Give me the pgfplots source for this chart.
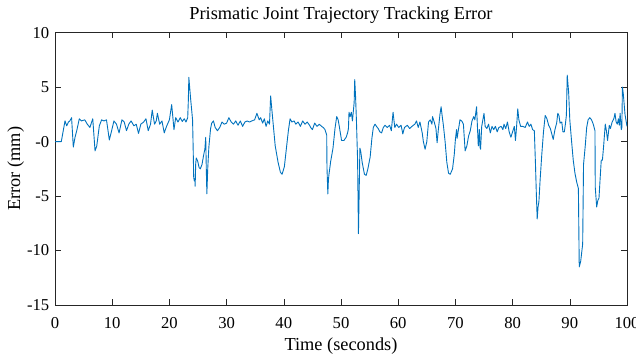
\documentclass[border=0pt]{standalone}
\usepackage{fontspec}
\setmainfont{Liberation Serif}
\usepackage{pgfplots}
\pgfplotsset{compat=1.18}
\definecolor{mlblue}{RGB}{0,114,189}
\begin{document}
\begin{tikzpicture}
\path[use as bounding box] (-55bp,-49bp) rectangle (581bp,305bp);
\begin{axis}[
  at={(0,0)}, anchor=south west,
  scale only axis, width=572bp, height=272.3bp,
  xmin=0, xmax=100, ymin=-15, ymax=10,
  xtick={0,10,...,100},
  ytick={-15,-10,-5,0,5,10},
  yticklabels={-15,-10,-5,-0,5,10},
  xticklabels={0,10,20,30,40,50,60,70,80,90,100},
  tick pos=both, tick align=inside,
  major tick length=5.7bp,
  axis line style={line width=0.6bp, black!85},
  tick style={line width=0.6bp, black!85},
  ticklabel style={font=\fontsize{16.7}{18}\selectfont},
  xticklabel style={anchor=base, inner sep=0pt, yshift=-23bp},
  yticklabel style={anchor=east, inner sep=0pt, xshift=-5.5bp},
  title={Prismatic Joint Trajectory Tracking Error},
  title style={font=\fontsize{18.4}{20}\selectfont, at={(0.5,1)}, anchor=base, yshift=7.7bp, inner sep=0pt},
  xlabel={Time (seconds)},
  xlabel style={font=\fontsize{18.4}{20}\selectfont, at={(0.5,0)}, anchor=base, yshift=-45bp, inner sep=0pt},
  ylabel={Error (mm)},
  ylabel style={font=\fontsize{18.4}{20}\selectfont, at={(axis description cs:-0.0685,0.5)}, anchor=center, inner sep=0pt},
]
\addplot[mlblue, line width=0.9bp, line join=round] table {
t v
0 0
1.1 0
1.75 1.9
2.05 1.45
2.35 1.8
2.6 1.9
2.9 2.2
3.2 -0.5
3.5 0.4
3.8 1.0
4.25 2.1
4.6 1.9
5.2 2.0
5.65 1.6
6.1 1.3
6.6 2.1
7.0 -0.85
7.3 -0.4
7.75 1.45
8.15 2.0
8.55 1.9
9.0 2.0
9.5 0.15
9.9 1.0
10.3 1.9
10.75 1.6
11.2 0.8
11.7 2.0
12.1 1.8
12.5 1.0
12.9 1.6
13.3 1.9
13.8 1.45
14.2 1.6
14.6 0.75
15.0 1.6
15.5 1.8
15.9 2.1
16.3 1.0
16.7 1.6
17.0 2.9
17.4 1.6
17.7 1.9
17.9 2.6
18.3 1.6
18.7 1.9
19.1 0.8
19.5 1.4
20.0 2.0
20.4 3.4
20.8 1.1
21.1 2.2
21.5 1.8
21.9 2.2
22.25 1.85
22.6 2.1
22.9 1.8
23.2 2.2
23.3 3.6
23.4 5.9
23.7 4.0
24.05 2.0
24.15 -0.5
24.25 -3.3
24.35 -3.6
24.45 -3.4
24.5 -4.1
24.6 -2.0
24.7 -1.5
24.95 -1.8
25.2 -2.4
25.4 -2.5
25.7 -2.1
26.0 -1.2
26.2 -0.7
26.35 0.4
26.45 -2.5
26.55 -4.8
26.7 -2.5
26.9 -0.5
27.2 1.2
27.4 1.7
27.7 1.9
28.0 1.3
28.4 1.0
28.8 1.3
29.2 1.8
29.6 1.6
30.0 1.7
30.4 2.2
30.8 1.8
31.2 1.6
31.6 1.9
32.0 1.5
32.4 1.9
32.8 1.4
33.2 1.8
33.6 1.9
34.0 1.8
34.4 1.9
34.9 2.0
35.3 2.6
35.7 2.0
35.95 2.2
36.3 1.7
36.6 2.1
36.9 1.4
37.2 1.9
37.5 1.6
37.7 4.2
37.9 3.0
38.2 1.3
38.5 -0.4
39.0 -1.9
39.4 -2.8
39.7 -3.0
40.1 -2.3
40.5 -0.4
40.8 1.0
41.1 2.1
41.4 1.8
41.8 1.9
42.1 1.6
42.5 1.8
42.9 1.4
43.3 1.9
43.7 1.6
44.1 1.8
44.5 1.5
44.7 1.3
45.0 1.1
45.4 1.7
45.8 1.4
46.2 1.6
46.6 1.4
46.9 1.3
47.2 1.1
47.5 0.6
47.55 -2.4
47.7 -4.8
47.8 -3.5
47.9 -3.0
48.2 -1.8
48.6 -0.6
48.95 1.2
49.25 2.3
49.5 2.0
49.7 1.4
50.1 0.1
50.5 0.1
50.9 0.4
51.15 0.8
51.3 1.2
51.4 2.7
51.6 2.3
51.8 2.7
52.0 1.9
52.3 3.6
52.4 5.7
52.55 4.1
52.7 1.9
52.9 -1.7
53.05 -8.45
53.15 -5.5
53.3 -0.6
53.45 -0.9
53.7 -1.9
54.1 -3.0
54.4 -3.1
54.7 -2.5
55.1 -1.4
55.4 0.3
55.65 1.3
55.95 1.6
56.2 1.4
56.5 1.2
56.8 0.9
57.1 0.8
57.4 1.3
57.7 1.5
58.1 1.3
58.5 1.5
58.8 1.0
59.1 2.7
59.4 1.3
59.7 1.6
60.1 1.3
60.5 1.5
60.7 1.0
60.8 0.7
61.1 1.3
61.6 1.5
62.0 1.2
62.4 1.4
62.9 1.6
63.2 1.9
63.5 1.3
63.8 1.8
64.2 0.8
64.4 0.0
64.7 -0.7
65.0 0.0
65.3 1.8
65.6 2.0
65.9 1.6
66.0 2.3
66.3 1.8
66.6 1.2
66.8 -0.1
67.0 1.0
67.3 2.5
67.5 3.2
67.7 2.3
67.9 1.5
68.2 0.0
68.5 -1.9
68.8 -2.9
69.1 -3.0
69.5 -2.5
69.8 -1.2
70.0 0.2
70.2 1.1
70.3 0.3
70.5 1.0
70.8 2.0
71.1 1.9
71.4 1.6
71.7 -0.85
72.0 -0.4
72.3 0.5
72.6 1.0
72.9 1.9
73.2 2.3
73.4 2.0
73.55 2.6
73.7 3.2
73.85 1.4
74.0 -0.4
74.2 1.1
74.3 -0.5
74.4 -0.7
74.6 1.4
74.8 2.0
75.0 2.6
75.2 1.4
75.5 1.2
75.8 1.6
76.1 0.8
76.4 1.4
76.7 1.1
77.0 1.4
77.3 0.9
77.6 1.3
78.0 1.4
78.3 1.1
78.5 1.6
78.8 1.2
79.1 1.8
79.4 0.9
79.7 0.4
80.0 0.9
80.3 1.4
80.5 0.1
80.7 1.4
80.9 3.0
81.1 2.0
81.4 1.4
81.8 1.4
82.2 1.3
82.6 1.8
82.9 1.4
83.2 1.6
83.5 1.1
83.8 1.0
84.0 -2.1
84.15 -4.8
84.3 -7.1
84.45 -6.0
84.6 -5.5
84.8 -3.6
85.1 -1.2
85.4 0.9
85.7 2.4
86.0 2.1
86.3 1.5
86.6 1.2
86.9 0.6
87.1 0.2
87.4 1.1
87.7 1.7
87.9 2.6
88.1 2.4
88.3 1.7
88.6 1.8
88.8 0.9
89.05 0.9
89.25 1.7
89.4 2.4
89.55 6.1
89.8 4.5
90.0 2.0
90.3 0.1
90.6 -1.7
90.9 -2.9
91.2 -3.7
91.5 -4.3
91.65 -11.5
91.9 -11.0
92.25 -9.4
92.4 -2.1
92.7 -0.4
92.95 1.3
93.2 2.0
93.5 2.2
93.8 2.0
94.1 1.6
94.4 1.0
94.45 -4.2
94.7 -6.0
94.9 -5.4
95.1 -5.2
95.3 -3.4
95.5 -1.7
95.7 -1.7
95.9 -0.5
96.2 1.6
96.4 1.0
96.6 0.1
96.9 1.5
97.1 1.2
97.4 1.8
97.7 2.1
97.9 2.6
98.1 1.8
98.3 1.6
98.5 2.1
98.65 1.5
98.8 2.6
99.0 1.1
99.1 1.3
99.2 5.0
99.35 4.4
99.65 2.5
99.9 1.7
100 1.4
};
\end{axis}
\end{tikzpicture}
\end{document}
